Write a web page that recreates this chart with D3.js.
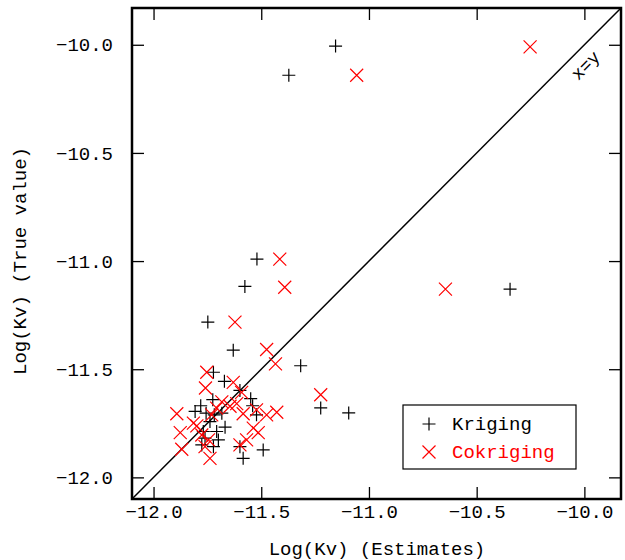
<!DOCTYPE html>
<html>
<head>
<meta charset="utf-8">
<script src="https://cdn.jsdelivr.net/npm/d3@7"></script>
<style>
  body { margin: 0; background: #fff; }
  text { font-family: "Courier New", "Liberation Mono", monospace; }
</style>
</head>
<body>
<script>
// estimates (x) vs true values (y)
const krigingX = [-11.155, -11.372, -10.345, -11.520, -11.576, -11.748, -11.630, -11.317, -11.224, -11.094,
  -11.722, -11.671, -11.599, -11.549, -11.781, -11.725, -11.540, -11.807, -11.756, -11.718,
  -11.683, -11.522, -11.738, -11.668, -11.769, -11.707, -11.761, -11.699, -11.776, -11.722,
  -11.599, -11.491, -11.584];
const krigingY = [-10.006, -10.141, -11.130, -10.991, -11.117, -11.282, -11.412, -11.484, -11.679, -11.702,
  -11.514, -11.556, -11.598, -11.636, -11.669, -11.641, -11.669, -11.695, -11.703, -11.711,
  -11.703, -11.711, -11.742, -11.768, -11.788, -11.788, -11.819, -11.827, -11.850, -11.858,
  -11.858, -11.873, -11.912];

const cokrigingX = [-10.252, -11.057, -11.414, -11.391, -10.645, -11.622, -11.475, -11.434, -11.224, -11.428,
  -11.753, -11.630, -11.759, -11.591, -11.683, -11.645, -11.614, -11.892, -11.584, -11.522,
  -11.475, -11.815, -11.730, -11.876, -11.537, -11.514, -11.776, -11.745, -11.568, -11.869,
  -11.761, -11.738, -11.599, -11.707, -11.799];
const cokrigingY = [-10.010, -10.141, -10.991, -11.121, -11.130, -11.282, -11.409, -11.475, -11.618, -11.699,
  -11.514, -11.561, -11.587, -11.607, -11.651, -11.671, -11.659, -11.706, -11.706, -11.688,
  -11.711, -11.749, -11.711, -11.793, -11.772, -11.793, -11.804, -11.827, -11.827, -11.870,
  -11.858, -11.912, -11.850, -11.680, -11.762];

const tickValues = [-12.0, -11.5, -11.0, -10.5, -10.0];
const domain = [-12.1, -9.83];

const margin = { top: 8, right: 4, bottom: 61, left: 132 };
const width = 625 - margin.left - margin.right;
const height = 560 - margin.top - margin.bottom;

const svg = d3.select('body').append('svg')
    .attr('width', 625)
    .attr('height', 560);

const g = svg.append('g')
    .attr('transform', 'translate(' + margin.left + ',' + margin.top + ')');

const x = d3.scaleLinear().domain(domain).range([0, width]);
const y = d3.scaleLinear().domain(domain).range([height, 0]);

const fmt = d3.format('.1f');
const fontSize = 19;

// axes, ticks pointing inward
g.append('g')
    .attr('transform', 'translate(0,' + height + ')')
    .call(d3.axisBottom(x).tickValues(tickValues).tickSize(-12).tickPadding(6).tickFormat(d => fmt(d).replace('-', '\u2212')));
g.append('g')
    .call(d3.axisLeft(y).tickValues(tickValues).tickSize(-12).tickPadding(19).tickFormat(d => fmt(d).replace('-', '\u2212')));
g.append('g')
    .call(d3.axisTop(x).tickValues(tickValues).tickSize(-12).tickFormat(''));
g.append('g')
    .attr('transform', 'translate(' + width + ',0)')
    .call(d3.axisRight(y).tickValues(tickValues).tickSize(-12).tickFormat(''));

g.selectAll('.domain').remove();
g.selectAll('.tick line').attr('stroke', '#000').attr('stroke-width', 1.3);
g.selectAll('.tick text')
    .attr('fill', '#000')
    .style('font-size', fontSize + 'px')
    .style('font-family', '"Courier New", "Liberation Mono", monospace');

// x = y line
g.append('line')
    .attr('x1', x(domain[0])).attr('y1', y(domain[0]))
    .attr('x2', x(domain[1])).attr('y2', y(domain[1]))
    .attr('stroke', '#000').attr('stroke-width', 1.5);

const lx = -9.975, ly = -10.115;
g.append('text')
    .attr('transform', 'translate(' + x(lx) + ',' + y(ly) + ') rotate(-45)')
    .attr('text-anchor', 'middle')
    .style('font-size', '18px')
    .attr('fill', '#000')
    .text('x=y');

const arm = 6.5;
const plus = 'M' + (-arm) + ',0H' + arm + 'M0,' + (-arm) + 'V' + arm;
const cross = 'M' + (-arm) + ',' + (-arm) + 'L' + arm + ',' + arm + 'M' + (-arm) + ',' + arm + 'L' + arm + ',' + (-arm);

// Kriging
g.append('g').selectAll('path')
    .data(d3.range(krigingX.length))
    .join('path')
    .attr('transform', i => 'translate(' + x(krigingX[i]) + ',' + y(krigingY[i]) + ')')
    .attr('d', plus)
    .attr('fill', 'none').attr('stroke', '#000').attr('stroke-width', 1.2);

// Cokriging
g.append('g').selectAll('path')
    .data(d3.range(cokrigingX.length))
    .join('path')
    .attr('transform', i => 'translate(' + x(cokrigingX[i]) + ',' + y(cokrigingY[i]) + ')')
    .attr('d', cross)
    .attr('fill', 'none').attr('stroke', '#ff0000').attr('stroke-width', 1.2);

// frame
g.append('rect')
    .attr('width', width).attr('height', height)
    .attr('fill', 'none').attr('stroke', '#000').attr('stroke-width', 2.5);

// axis titles
svg.append('text')
    .attr('x', margin.left + x(-11.0) + 8)
    .attr('y', 555)
    .attr('text-anchor', 'middle')
    .style('font-size', fontSize + 'px')
    .text('Log(Kv) (Estimates)');

svg.append('text')
    .attr('transform', 'translate(26,' + 261 + ') rotate(-90)')
    .attr('text-anchor', 'middle')
    .style('font-size', fontSize + 'px')
    .text('Log(Kv) (True value)');

// legend
const legend = svg.append('g').attr('transform', 'translate(403,405)');
legend.append('rect')
    .attr('width', 173).attr('height', 64)
    .attr('fill', '#fff').attr('stroke', '#000').attr('stroke-width', 1.2);
const items = [
  { name: 'Kriging', color: '#000', d: plus },
  { name: 'Cokriging', color: '#ff0000', d: cross }
];
items.forEach((it, i) => {
  legend.append('path')
      .attr('transform', 'translate(26,' + (19 + i * 28) + ')')
      .attr('d', it.d)
      .attr('fill', 'none').attr('stroke', it.color).attr('stroke-width', 1.2);
  legend.append('text')
      .attr('x', 49).attr('y', 25 + i * 28)
      .attr('fill', it.color)
      .style('font-size', fontSize + 'px')
      .text(it.name);
});
</script>
</body>
</html>
